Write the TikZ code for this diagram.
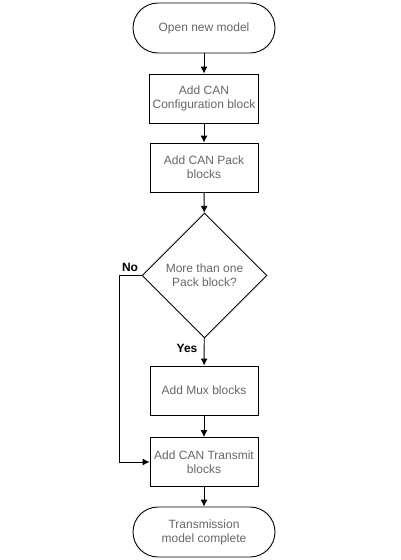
\documentclass[tikz,border=0pt]{standalone}
\usepackage{fontspec}
\setmainfont{Liberation Sans}
\usetikzlibrary{shapes.geometric,arrows.meta}

\tikzset{
  flow/.style={draw=black,line width=0.9pt,text=black!60,align=center,font=\fontsize{12}{14}\selectfont},
  terminal/.style={flow,rectangle,rounded corners=25pt,minimum width=142pt,minimum height=50pt},
  stepbox/.style={flow,rectangle,minimum width=108pt,minimum height=49pt},
  decision/.style={flow,diamond,aspect=1,inner sep=0pt,minimum width=125pt,minimum height=125pt},
  link/.style={line width=0.9pt,-{Latex[length=7pt,width=7pt]}},
  answer/.style={font=\fontsize{12}{14}\selectfont\bfseries}
}

\begin{document}
\begin{tikzpicture}[x=1pt,y=-1pt]
  \useasboundingbox (0,0) rectangle (400,560);

  \node (OPEN) at (204,28) [terminal] {Open new model};
  \node (CONF) at (204,98.5) [stepbox] {Add CAN\\Configuration block};
  \node (PACK) at (204,167.5) [stepbox] {Add CAN Pack\\blocks};
  \node (MANY) at (204.5,275.5) [decision] {More than one\\Pack block?};
  \node (MUX) at (204,390.5) [stepbox] {Add Mux blocks};
  \node (TRAN) at (204,462) [stepbox] {Add CAN Transmit\\blocks};
  \node (DONE) at (204,532) [terminal] {Transmission\\model complete};

  \node (NO) at (130,267) [answer] {No};
  \node (YES) at (187,348) [answer] {Yes};
  \coordinate (NOTURN) at (119,275.5);

  \draw[link] (OPEN) -- (CONF);
  \draw[link] (CONF) -- (PACK);
  \draw[link] (PACK) -- (MANY);
  \draw[link] (MANY) -- (MUX);
  \draw[link] (MUX) -- (TRAN);
  \draw[link] (TRAN) -- (DONE);
  \draw[link] (MANY.west) -- (NOTURN) |- (TRAN.west);

\end{tikzpicture}
\end{document}
